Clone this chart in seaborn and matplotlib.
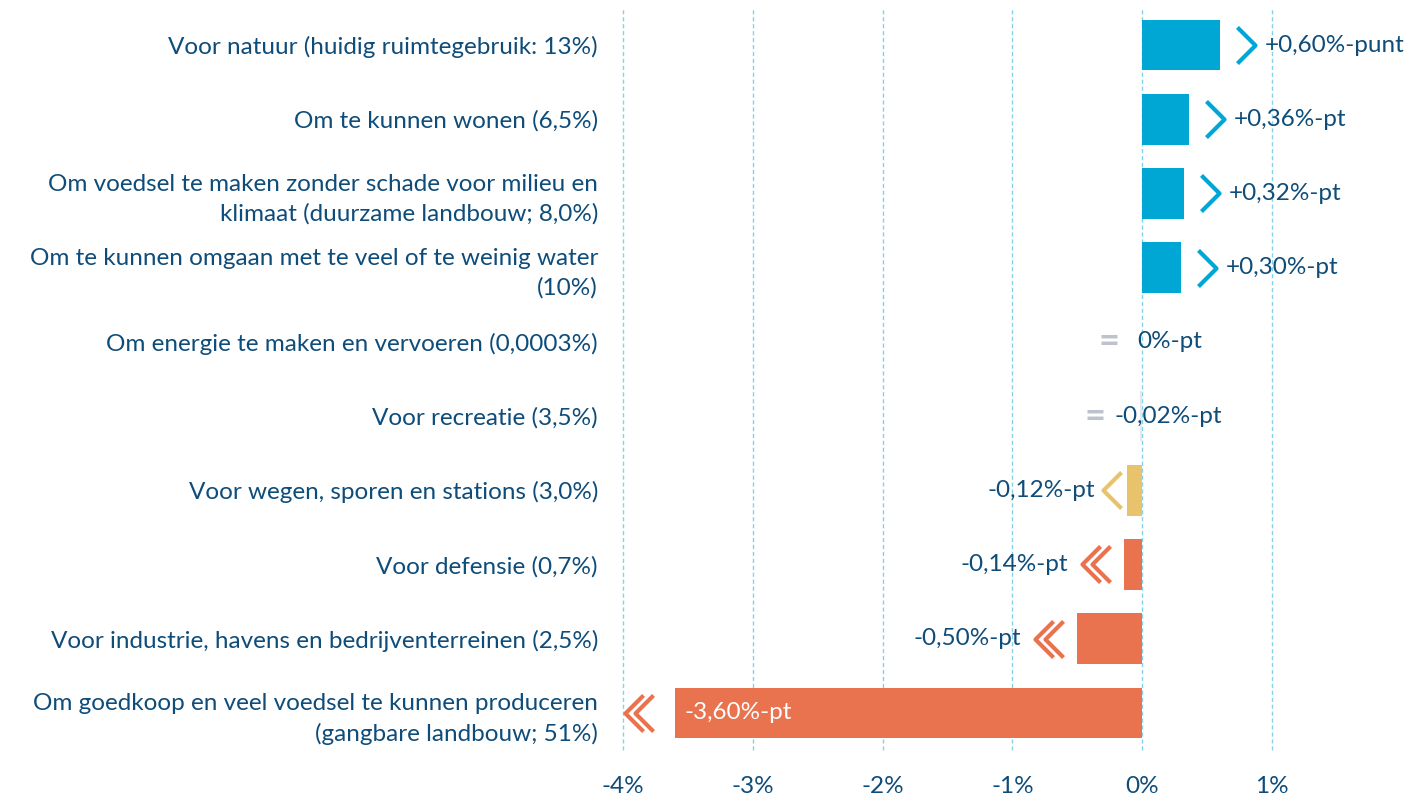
#!/usr/bin/env python3
"""Horizontal bar chart: verandering ruimtegebruik per functie."""

import matplotlib
matplotlib.use("Agg")
import matplotlib.pyplot as plt
import pandas as pd
import seaborn as sns
from matplotlib.path import Path

categories = [
    "Voor natuur (huidig ruimtegebruik: 13%)",
    "Om te kunnen wonen (6,5%)",
    "Om voedsel te maken zonder schade voor milieu en\nklimaat (duurzame landbouw; 8,0%)",
    "Om te kunnen omgaan met te veel of te weinig water\n(10%)",
    "Om energie te maken en vervoeren (0,0003%)",
    "Voor recreatie (3,5%)",
    "Voor wegen, sporen en stations (3,0%)",
    "Voor defensie (0,7%)",
    "Voor industrie, havens en bedrijventerreinen (2,5%)",
    "Om goedkoop en veel voedsel te kunnen produceren\n(gangbare landbouw; 51%)",
]
values = [0.60, 0.36, 0.32, 0.30, 0.0, -0.02, -0.12, -0.14, -0.50, -3.60]
value_labels = [
    "+0,60%-punt", "+0,36%-pt", "+0,32%-pt", "+0,30%-pt", "0%-pt",
    "-0,02%-pt", "-0,12%-pt", "-0,14%-pt", "-0,50%-pt", "-3,60%-pt",
]
# trend symbol per row: up, equal, down, down2
trends = ["up", "up", "up", "up", "eq", "eq", "down", "down2", "down2", "down2"]
x_ticks = [-4, -3, -2, -1, 0, 1]
x_tick_labels = ["-4%", "-3%", "-2%", "-1%", "0%", "1%"]

BLUE = "#00A7D5"
ORANGE = "#E8734E"
YELLOW = "#E8C36B"
GREY = "#BDC2CC"
PALE = "#E4E7EE"
TEXT = "#0E4C7A"
FS = 17.5

bar_colors = [BLUE, BLUE, BLUE, BLUE, PALE, PALE, YELLOW, ORANGE, ORANGE, ORANGE]
sym_colors = {"up": BLUE, "eq": GREY, "down": YELLOW, "down2": ORANGE}

sns.set_style("white")
plt.rcParams["font.family"] = ["Lato", "DejaVu Sans"]

df = pd.DataFrame({"cat": categories, "val": values})

fig = plt.figure(figsize=(14.17, 7.99), dpi=100)
ax = fig.add_axes([623 / 1417, 1 - 750 / 799, (1272 - 623) / 1417, (750 - 8) / 799])

sns.barplot(data=df, y="cat", x="val", hue="cat", palette=bar_colors,
            orient="h", width=0.68, legend=False, ax=ax, saturation=1,
            linewidth=0)

ax.set_xlim(-4, 1)
ax.set_ylim(9.5, -0.5)
ax.set_xticks(x_ticks)
ax.set_xticklabels(x_tick_labels, fontsize=FS, color=TEXT)
ax.tick_params(axis="x", length=0, pad=19)
ax.tick_params(axis="y", length=0, pad=18)
ax.set_yticks(range(len(categories)))
ax.set_yticklabels(categories, fontsize=FS, color=TEXT, linespacing=1.45)
ax.set_xlabel("")
ax.set_ylabel("")
for s in ax.spines.values():
    s.set_visible(False)
for xt in x_ticks:
    ax.axvline(xt, color="#84D2EA", linestyle=(0, (3, 2)), linewidth=1.0,
               zorder=0, clip_on=False)

# chevron markers
chev_right = Path([(-0.5, 1), (0.5, 0), (-0.5, -1)], [Path.MOVETO, Path.LINETO, Path.LINETO])
chev_left = Path([(0.5, 1), (-0.5, 0), (0.5, -1)], [Path.MOVETO, Path.LINETO, Path.LINETO])
px = 1 / 129.8  # data units per pixel
eq_offsets = {4: (-33, -5), 5: (-47, -28)}

for i, (v, lab, tr) in enumerate(zip(values, value_labels, trends)):
    c = sym_colors[tr]
    if tr == "up":
        ax.plot(v + 26 * px, i, marker=chev_right, markersize=26, mfc="none",
                mec=c, mew=3, clip_on=False)
        ax.text(v + 45 * px, i, lab, va="center", ha="left", fontsize=FS,
                color=TEXT, clip_on=False)
    elif tr == "eq":
        eo, to = eq_offsets[i]
        ax.text(eo * px, i, "=", va="center", ha="center", fontsize=26,
                fontweight="bold", color=c)
        ax.text(to * px, i, lab, va="center", ha="left", fontsize=FS, color=TEXT)
    elif tr == "down":
        ax.plot(v - 15 * px, i, marker=chev_left, markersize=26, mfc="none",
                mec=c, mew=3)
        ax.text(v - 32 * px, i, lab, va="center", ha="right", fontsize=FS, color=TEXT)
    else:
        off = 36 if v < -1 else 28
        for d in (-5, 5):
            ax.plot(v - (off + d) * px, i, marker=chev_left, markersize=26,
                    mfc="none", mec=c, mew=3, clip_on=False)
        if v < -1:
            ax.text(v + 10 * px, i, lab, va="center", ha="left", fontsize=FS, color="white")
        else:
            ax.text(v - 56 * px, i, lab, va="center", ha="right", fontsize=FS, color=TEXT)

fig.savefig("out.png", dpi=100)
